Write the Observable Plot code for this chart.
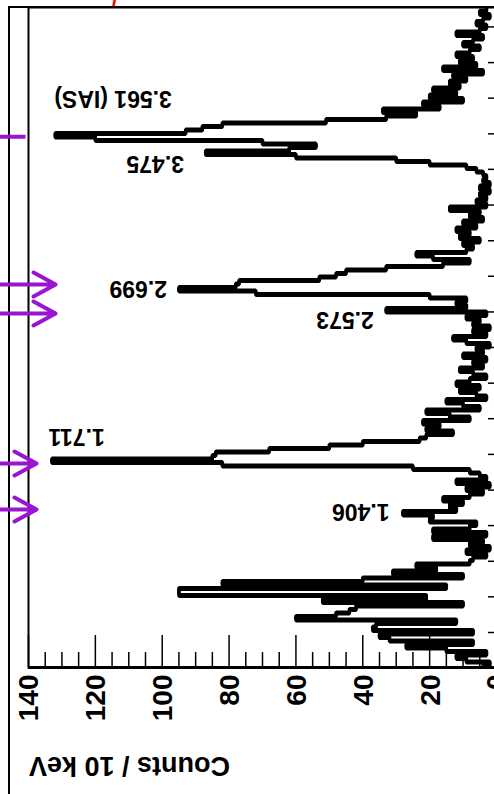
<!DOCTYPE html>
<html><head><meta charset="utf-8">
<script src="https://cdn.jsdelivr.net/npm/d3@7"></script>
<script src="https://cdn.jsdelivr.net/npm/@observablehq/plot@0.6"></script>
<style>
html,body{margin:0;padding:0;background:#fff;}
#wrap{position:relative;width:494px;height:794px;overflow:hidden;}
#outer{position:absolute;left:8px;top:6px;width:600px;height:900px;border-left:2px solid #000;border-top:2px solid #000;}
#chart{position:absolute;left:0;top:0;}
#redmark{position:absolute;left:113px;top:-25px;font:italic 30px "Liberation Sans",Arial,sans-serif;line-height:30px;color:#f00;}
</style></head><body>
<div id="wrap"><div id="outer"></div><div id="chart"></div><div id="redmark">p</div></div>
<script>
// Spectrum: counts per bin, listed from the highest energy bin (top) to the lowest (bottom)
const topEnergy = 4.30;   // MeV, upper edge of the first bin
const binWidth = 0.02;    // MeV
const countsHighToLow = [
  3, 5, 2, 4, 6, 3, 5, 12, 4, 7,
  10, 5, 8, 12, 7, 11, 6, 16, 4, 13,
  9, 14, 11, 19, 12, 20, 10, 22, 17, 34,
  24, 33, 51, 82, 88, 93, 132, 120, 70, 54,
  62, 87, 60, 30, 20, 9, 6, 4, 3, 4,
  2, 5, 2, 5, 3, 6, 3, 14, 5, 8,
  4, 10, 6, 12, 8, 11, 5, 10, 7, 9,
  24, 19, 8, 16, 33, 45, 48, 53, 77, 78,
  95, 72, 20, 9, 12, 9, 33, 3, 9, 5,
  7, 2, 7, 3, 13, 9, 2, 6, 4, 10,
  3, 7, 4, 11, 7, 3, 8, 12, 5, 11,
  6, 3, 15, 10, 5, 21, 14, 8, 22, 17,
  21, 13, 21, 23, 40, 50, 68, 84, 85, 133,
  82, 25, 8, 5, 3, 12, 2, 9, 4, 8,
  16, 10, 14, 12, 28, 19, 20, 6, 8, 19,
  3, 19, 4, 8, 2, 9, 3, 7, 8, 24,
  18, 31, 10, 40, 82, 15, 95, 95, 21, 52,
  10, 42, 44, 48, 60, 12, 36, 37, 7, 35,
  32, 7, 27, 15, 3, 12, 9, 2, 4
];

const energyDomain = [0.528, 4.30];
const countDomain = [140, 0];
const countMajorTicks = [0, 20, 40, 60, 80, 100, 120, 140];
const countMinorTicks = [5, 10, 15, 25, 30, 35, 45, 50, 55, 65, 70, 75, 85, 90, 95, 105, 110, 115, 125, 130, 135];
const energyTicks = [0.728, 0.932, 1.135, 1.339, 1.542, 1.746, 1.950, 2.153, 2.357, 2.560, 2.764, 2.967, 3.171, 3.375, 3.578, 3.782, 3.985, 4.189];

const peakLabels = ["3.561 (IAS)", "3.475", "2.699", "2.573", "1.711", "1.406"];
const peakLabelCounts = [114.7, 102.1, 107.2, 45.3, 125.6, 40.6];
const peakLabelEnergies = [3.780, 3.408, 2.697, 2.517, 1.848, 1.422];

const arrowEnergies = [2.717, 2.551, 1.694, 1.431];
const arrowTipCounts = [131.9, 131.9, 137.6, 137.6];
const markerLineEnergies = [3.562];
const markerLineEndCount = 140.9;
const arrowTailCount = 165;
const purple = "#9a14d2";

const axisTitle = "Counts / 10 keV";

// step outline: each bin contributes its two edges
const steps = countsHighToLow.flatMap((c, i) => {
  const hi = topEnergy - binWidth * i;
  const lo = hi - binWidth;
  return [{e: hi, c}, {e: lo, c}];
});

const lineStyle = {x: "c", y: "e", stroke: "#000", strokeWidth: 3.4, strokeLinejoin: "miter", strokeLinecap: "butt", clip: true};

const plot = Plot.plot({
  width: 494, height: 794,
  marginLeft: 28, marginRight: -2, marginTop: 7, marginBottom: 127,
  x: {domain: countDomain, axis: null},
  y: {domain: energyDomain, axis: null},
  style: {background: "transparent", fontFamily: "'Liberation Sans', Arial, sans-serif", overflow: "hidden"},
  marks: [
    Plot.line(steps, {...lineStyle, dy: -0.8}),
    Plot.line(steps, {...lineStyle, dy: 0.8}),
    Plot.frame({stroke: "#000", strokeWidth: 2}),
    Plot.ruleY([energyDomain[0]], {stroke: "#000", strokeWidth: 3}),
    Plot.tickX(countMajorTicks, {x: d => d, insetTop: 628, stroke: "#000", strokeWidth: 1.5}),
    Plot.tickX(countMinorTicks, {x: d => d, insetTop: 645, stroke: "#000", strokeWidth: 1.5}),
    Plot.tickY(energyTicks, {y: d => d, insetLeft: 460, stroke: "#000", strokeWidth: 1.5}),
    Plot.text(countMajorTicks, {x: d => d, frameAnchor: "bottom", text: d => String(d), rotate: -90,
      textAnchor: "end", lineAnchor: "middle", dy: 7, dx: 1, fontSize: 28, fontWeight: "bold", fill: "#000",
      ariaLabel: "count-tick-labels"}),
    Plot.text([axisTitle], {frameAnchor: "bottom-left", text: d => d, rotate: 180, textAnchor: "middle",
      lineAnchor: "middle", dx: 101, dy: 98, fontSize: 27, fontWeight: "bold", fill: "#000", ariaLabel: "axis-title"}),
    Plot.text(peakLabels, {x: (d, i) => peakLabelCounts[i], y: (d, i) => peakLabelEnergies[i], text: d => d,
      rotate: 180, textAnchor: "middle", lineAnchor: "middle", fontSize: 23, fontWeight: "bold", fill: "#000",
      ariaLabel: "peak-labels"}),
    Plot.link(markerLineEnergies, {x1: arrowTailCount, x2: markerLineEndCount, y1: d => d, y2: d => d,
      stroke: purple, strokeWidth: 4, ariaLabel: "markers"}),
    Plot.arrow(arrowEnergies, {x1: arrowTailCount, x2: (d, i) => arrowTipCounts[i], y1: d => d, y2: d => d,
      stroke: purple, strokeWidth: 4, headLength: 9.4, headAngle: 57, ariaLabel: "markers"})
  ]
});

const svg = d3.select(plot);
svg.selectAll('g[aria-label="peak-labels"] text, g[aria-label="axis-title"] text')
  .attr("transform", function () { return (this.getAttribute("transform") || "") + " scale(1,1.5)"; });
svg.selectAll('g[aria-label="count-tick-labels"] text')
  .attr("transform", function () { return (this.getAttribute("transform") || "") + " scale(1.38,1)"; });
svg.selectAll('g[aria-label="markers"]').style("filter", "drop-shadow(2px 2px 1.5px rgba(0,0,0,0.45))");

document.getElementById("chart").appendChild(plot);
</script></body></html>
